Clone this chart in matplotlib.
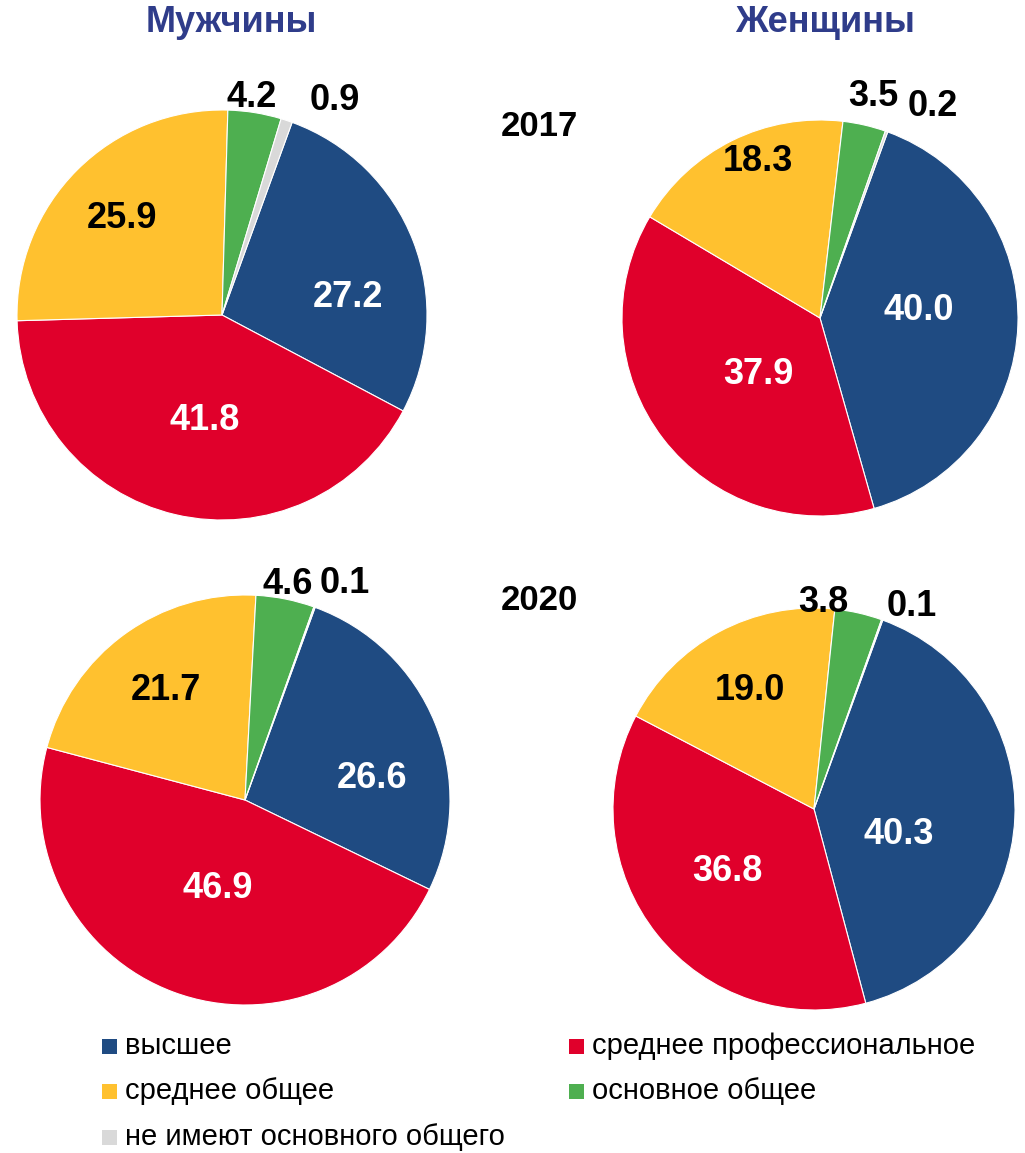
import numpy as np
import matplotlib
matplotlib.use("Agg")
import matplotlib.pyplot as plt
from matplotlib.patches import Rectangle

plt.rcParams['font.family'] = ['Liberation Sans', 'DejaVu Sans']

# ---------------- data ----------------
categories = ["высшее", "среднее профессиональное", "среднее общее",
              "основное общее", "не имеют основного общего"]
men_2017 = [27.2, 41.8, 25.9, 4.2, 0.9]
women_2017 = [40.0, 37.9, 18.3, 3.5, 0.2]
men_2020 = [26.6, 46.9, 21.7, 4.6, 0.1]
women_2020 = [40.3, 36.8, 19.0, 3.8, 0.1]
column_titles = ["Мужчины", "Женщины"]
years = ["2017", "2020"]

# ---------------- style ----------------
colors = ["#1F4B82", "#E0002B", "#FFC12F", "#4EAF50", "#D9D9D9"]
label_colors = ["white", "white", "black", "black", "black"]
title_color = "#2F3C8A"
W, H = 1025, 1153

# pie layout (pixel units, y measured from top): (cx, cy, r)
pie_layout = {
    "m17": (222, 315, 205),
    "w17": (820, 318, 198),
    "m20": (245, 800, 205),
    "w20": (814, 809, 201),
}
# label placement per slice: (angle offset from slice middle in deg, radius fraction)
label_place = {
    "m17": [(13, 0.62), (-4, 0.52), (-1, 0.68), (-1.4, 1.07), (9.3, 1.18)],
    "w17": [(-6.7, 0.50), (-4.8, 0.42), (4.5, 0.85), (0.6, 1.15), (8.5, 1.21)],
    "m20": [(12.3, 0.63), (-3.1, 0.45), (0.3, 0.66), (0, 1.07), (4.9, 1.16)],
    "w20": [(14.5, 0.44), (2.8, 0.53), (-0.4, 0.67), (-10.3, 1.03), (6, 1.12)],
}
first_slice_angle = 20  # degrees clockwise from 12 o'clock

fig = plt.figure(figsize=(W / 100, H / 100), dpi=100)
ax = fig.add_axes([0, 0, 1, 1])

series = {"m17": men_2017, "w17": women_2017, "m20": men_2020, "w20": women_2020}

for key, vals in series.items():
    cx, cy_img, r = pie_layout[key]
    cy = H - cy_img
    ax.pie(vals, colors=colors, startangle=90 - first_slice_angle,
           counterclock=False, center=(cx, cy), radius=r,
           wedgeprops=dict(edgecolor="white", linewidth=0.8),
           normalize=True, frame=True)
    total = sum(vals)
    start = first_slice_angle
    for i, v in enumerate(vals):
        span = 360 * v / total
        mid = start + span / 2
        dang, frac = label_place[key][i]
        ang = np.deg2rad(mid + dang)
        tx = cx + frac * r * np.sin(ang)
        ty = cy + frac * r * np.cos(ang)
        ax.text(tx, ty, f"{v:.1f}", ha="center", va="center",
                fontsize=26, fontweight="bold", color=label_colors[i])
        start += span

ax.set_xlim(0, W)
ax.set_ylim(0, H)
ax.set_aspect("equal")
ax.axis("off")

# column titles
ax.text(231, H - 22, column_titles[0], ha="center", va="center",
        fontsize=26, fontweight="bold", color=title_color)
ax.text(825, H - 22, column_titles[1], ha="center", va="center",
        fontsize=26, fontweight="bold", color=title_color)
# years
ax.text(539, H - 127, years[0], ha="center", va="center",
        fontsize=25, fontweight="bold", color="black")
ax.text(539, H - 601, years[1], ha="center", va="center",
        fontsize=25, fontweight="bold", color="black")

# legend (row-major, two columns)
legend_pos = [(102, 1046), (569, 1046), (102, 1091), (569, 1091), (102, 1137)]
sq = 15
for i, cat in enumerate(categories):
    lx, ly = legend_pos[i]
    ax.add_patch(Rectangle((lx, H - ly - sq / 2), sq, sq, facecolor=colors[i],
                           edgecolor="none"))
    ax.text(lx + sq + 8, H - ly, cat, ha="left", va="center",
            fontsize=21, color="black")

fig.savefig("out.png", dpi=100)
